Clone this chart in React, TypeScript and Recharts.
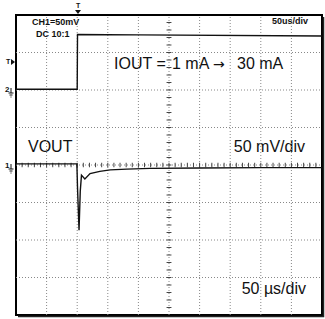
import { LineChart, Line, XAxis, YAxis, ReferenceLine } from "recharts"

// time in µs (50 µs/div), amplitude in screen divisions
const timeTicks = [50, 100, 150, 200, 250, 300, 350, 400, 450]
const divTicks = [-3, -2, -1, 0, 1, 2, 3]

const ioutTime = [0, 100, 100.5, 200, 500]
const ioutLevel = [2.02, 2.02, 3.48, 3.47, 3.44]

const voutTime = [0, 99.5, 100.5, 103, 105, 107, 112.5, 121, 137, 154, 181, 219, 300, 400, 500]
const voutLevel = [0.03, 0.03, -0.6, -1.74, -0.7, -0.27, -0.37, -0.23, -0.17, -0.13, -0.11, -0.09, -0.08, -0.07, -0.07]

const iout = ioutTime.map((t, i) => ({ t, v: ioutLevel[i] }))
const vout = voutTime.map((t, i) => ({ t, v: voutLevel[i] }))

// minor ticks on the centre cross (1/5 div)
const hMinor = Array.from({ length: 49 }, (_, i) => (i + 1) * 10)
const vMinor = Array.from({ length: 39 }, (_, i) => -3.8 + i * 0.2)

const big = { fontFamily: "'Liberation Sans', Arial, sans-serif", fontSize: 16, fill: "#111" }
const small = { fontFamily: "'Liberation Sans Narrow', 'Liberation Sans', Arial, sans-serif", fontSize: 9, fontWeight: 700, fill: "#111" }

export default function App() {
  return (
    <div style={{ position: "absolute", left: 0, top: 0, background: "#fff" }}>
      <LineChart width={325} height={319} margin={{ top: 15, right: 3, bottom: 4, left: 16 }}>
        <XAxis dataKey="t" type="number" domain={[0, 500]} height={0} tick={false} axisLine={false} tickLine={false} />
        <YAxis type="number" domain={[-4, 4]} width={0} tick={false} axisLine={false} tickLine={false} />
        {timeTicks.map((x) => (
          <ReferenceLine key={"gx" + x} x={x} stroke="#888" strokeDasharray="1 2" />
        ))}
        {divTicks.map((y) => (
          <ReferenceLine key={"gy" + y} y={y} stroke="#888" strokeDasharray="1 2" />
        ))}
        {hMinor.map((x) => (
          <ReferenceLine key={"h" + x} segment={[{ x, y: -0.06 }, { x, y: 0.06 }]} stroke="#444" />
        ))}
        {vMinor.map((y) => (
          <ReferenceLine key={"v" + y} segment={[{ x: 246, y }, { x: 254, y }]} stroke="#444" />
        ))}
        <Line data={iout} dataKey="v" type="linear" stroke="#111" strokeWidth={1.4} dot={false} isAnimationActive={false} />
        <Line data={vout} dataKey="v" type="linear" stroke="#111" strokeWidth={1.4} dot={false} isAnimationActive={false} />
        <rect x={16} y={15} width={306} height={300} fill="none" stroke="#000" strokeWidth={2} />
        <path d="M 323.5 17 V 316.5 H 18" fill="none" stroke="#222" strokeWidth={1.5} />
        <text x={32} y={25} style={small}>CH1=50mV</text>
        <text x={36} y={37} style={small}>DC  10:1</text>
        <text x={308} y={24} textAnchor="end" style={small}>50us/div</text>
        <text y={69} style={big}>
          <tspan x={114}>IOUT =</tspan>
          <tspan x={172}>1 mA</tspan>
          <tspan x={213} style={{ fontFamily: "'DejaVu Sans', sans-serif", fontSize: 14 }}>→</tspan>
          <tspan x={237}>30 mA</tspan>
        </text>
        <text x={28} y={152} style={big}>VOUT</text>
        <text x={305} y={152} textAnchor="end" style={big}>50 mV/div</text>
        <text x={306} y={294} textAnchor="end" style={big}>50 µs/div</text>
        <text x={76} y={8} style={{ ...small, fontSize: 7 }}>T</text>
        <path d="M 75 10 L 81 10 L 78 14 Z" fill="#111" />
        <text x={6} y={64} style={{ ...small, fontSize: 7 }}>T</text>
        <path d="M 11 59 L 15 62 L 11 65 Z" fill="#111" />
        <text x={5} y={92} style={{ ...small, fontSize: 8 }}>2</text>
        <path d="M 11 88 V 93 M 8.5 93 H 13.5 M 9.5 95 H 12.5 M 10.5 97 H 11.5" stroke="#111" strokeWidth={1} />
        <text x={5} y={168} style={{ ...small, fontSize: 8 }}>1</text>
        <path d="M 11 164 V 169 M 8.5 169 H 13.5 M 9.5 171 H 12.5 M 10.5 173 H 11.5" stroke="#111" strokeWidth={1} />
      </LineChart>
    </div>
  )
}
